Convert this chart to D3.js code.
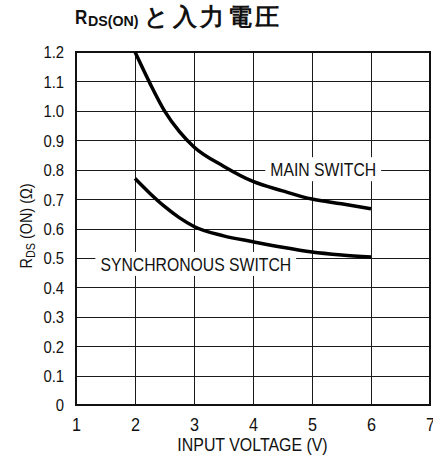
<!DOCTYPE html>
<html>
<head>
<meta charset="utf-8">
<script src="https://cdn.jsdelivr.net/npm/d3@7/dist/d3.min.js"></script>
<style>
  html, body { margin: 0; padding: 0; background: #fff; }
  svg { display: block; }
  text { font-family: "Liberation Sans", Arial, sans-serif; fill: #111; }
</style>
</head>
<body>
<svg id="chart" width="433" height="462"></svg>
<script>
// Input voltage (V) sample points and on-resistance (Ω) for each switch
const voltage = [2.0, 2.25, 2.5, 2.75, 3.0, 3.5, 4.0, 4.5, 5.0, 5.5, 6.0];
const mainSwitch = [1.2, 1.095, 1.0, 0.93, 0.877, 0.812, 0.76, 0.728, 0.70, 0.684, 0.667];
const syncSwitch = [0.77, 0.72, 0.675, 0.637, 0.607, 0.575, 0.555, 0.536, 0.52, 0.51, 0.503];

const xTicks = [1, 2, 3, 4, 5, 6, 7];
const yTicks = [0, 0.1, 0.2, 0.3, 0.4, 0.5, 0.6, 0.7, 0.8, 0.9, 1.0, 1.1, 1.2];

// curve labels, anchored in data units (x centre, y of the grid line they sit on)
const seriesLabels = [
  { text: "MAIN SWITCH", x: 5.19, y: 0.8, dy: 6.5 },
  { text: "SYNCHRONOUS SWITCH", x: 3.03, y: 0.5, dy: 13 }
];

const margin = { left: 76, top: 52, right: 3, bottom: 57 };
const W = 433, H = 462;
const innerW = W - margin.left - margin.right;
const innerH = H - margin.top - margin.bottom;

// horizontally condense a text element about its own anchor point
function condense(sel, sx) {
  sel.each(function () {
    const t = d3.select(this);
    const tx = +t.attr("x") || 0;
    t.attr("x", tx / sx).attr("transform", `scale(${sx},1)`);
  });
}

const svg = d3.select("#chart");
const g = svg.append("g").attr("transform", `translate(${margin.left},${margin.top})`);

const x = d3.scaleLinear().domain([1, 7]).range([0, innerW]);
const y = d3.scaleLinear().domain([0, 1.2]).range([innerH, 0]);

// grid
g.append("g").selectAll("line").data(yTicks).join("line")
  .attr("x1", 0).attr("x2", innerW)
  .attr("y1", d => Math.round(y(d)) + 0.5).attr("y2", d => Math.round(y(d)) + 0.5)
  .attr("stroke", "#1a1a1a").attr("stroke-width", 1);
g.append("g").selectAll("line").data(xTicks).join("line")
  .attr("y1", 0).attr("y2", innerH)
  .attr("x1", d => Math.round(x(d)) + 0.5).attr("x2", d => Math.round(x(d)) + 0.5)
  .attr("stroke", "#1a1a1a").attr("stroke-width", 1);

// axes (labels only)
const yAxis = g.append("g")
  .call(d3.axisLeft(y).tickValues(yTicks).tickSize(0).tickPadding(12)
    .tickFormat(d => d === 0 ? "0" : d3.format(".1f")(d)));
yAxis.select(".domain").remove();
yAxis.selectAll("text").attr("font-size", 16.5).attr("fill", "#111")
  .attr("font-family", "Liberation Sans, Arial, sans-serif").attr("dy", "0.36em");
condense(yAxis.selectAll("text"), 0.9);

const xAxis = g.append("g").attr("transform", `translate(0,${innerH})`)
  .call(d3.axisBottom(x).tickValues(xTicks).tickSize(0).tickPadding(13).tickFormat(d3.format("d")));
xAxis.select(".domain").remove();
xAxis.selectAll("text").attr("font-size", 18).attr("fill", "#111")
  .attr("font-family", "Liberation Sans, Arial, sans-serif");
condense(xAxis.selectAll("text"), 0.9);

// frame
g.append("rect").attr("x", 0).attr("y", 0).attr("width", innerW).attr("height", innerH)
  .attr("fill", "none").attr("stroke", "#111").attr("stroke-width", 2);

// curves
const line = d3.line().x(d => x(d[0])).y(d => y(d[1])).curve(d3.curveMonotoneX);
[mainSwitch, syncSwitch].forEach(vals => {
  g.append("path").datum(voltage.map((v, i) => [v, vals[i]]))
    .attr("d", line).attr("fill", "none").attr("stroke", "#000")
    .attr("stroke-width", 3.5).attr("stroke-linejoin", "round").attr("stroke-linecap", "butt");
});

// curve labels on white boxes that break the grid
seriesLabels.forEach(l => {
  const sx = 0.83;
  const lg = g.append("g").attr("transform", `translate(${x(l.x)},${y(l.y) + l.dy})`);
  const t = lg.append("text").attr("text-anchor", "middle")
    .attr("font-size", 19).attr("transform", `scale(${sx},1)`).text(l.text);
  const bb = t.node().getBBox();
  lg.insert("rect", "text")
    .attr("x", bb.x * sx - 5).attr("y", -19)
    .attr("width", bb.width * sx + 10).attr("height", 24).attr("fill", "#fff");
});

// title
svg.append("text").attr("x", 75).attr("y", 24).attr("font-size", 20).attr("font-weight", "bold")
  .call(condense, 0.85).text("R");
svg.append("text").attr("x", 88).attr("y", 26).attr("font-size", 15).attr("font-weight", "bold")
  .call(condense, 0.95).text("DS(ON)");
svg.append("text").attr("x", 144).attr("y", 25)
  .attr("font-family", "Noto Sans CJK JP").attr("font-size", 24).attr("font-weight", "bold")
  .attr("letter-spacing", 3.5).text("と入力電圧");

// y-axis title
const yt = svg.append("text")
  .attr("transform", `translate(32,226) rotate(-90) scale(0.9,1)`)
  .attr("text-anchor", "middle").attr("font-size", 16);
yt.append("tspan").text("R");
yt.append("tspan").attr("font-size", 12).attr("dy", 3).text("DS");
yt.append("tspan").attr("dy", -3).text(" (ON) (Ω)");

// x-axis title
svg.append("text")
  .attr("transform", `translate(${margin.left + x(4) - 0.5},451) scale(0.91,1)`)
  .attr("text-anchor", "middle").attr("font-size", 17.5)
  .text("INPUT VOLTAGE (V)");
</script>
</body>
</html>
